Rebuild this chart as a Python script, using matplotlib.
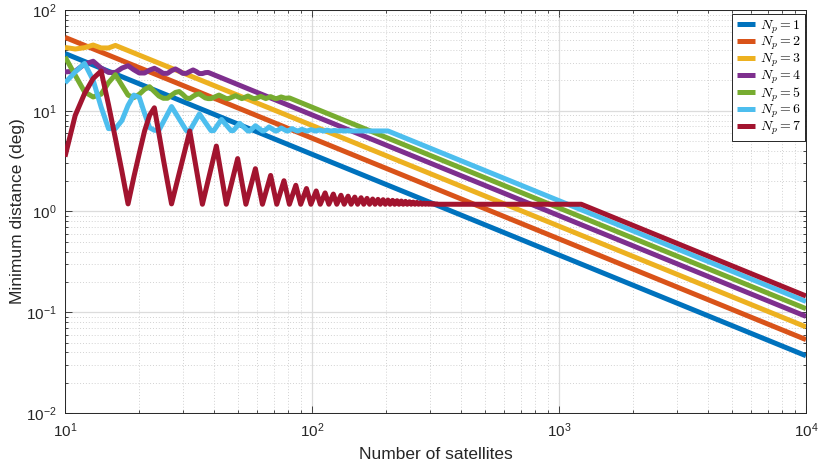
import numpy as np
import matplotlib
matplotlib.use('Agg')
import matplotlib.pyplot as plt
from matplotlib.ticker import LogLocator, NullFormatter

plt.rcParams['font.family'] = ['Liberation Sans', 'DejaVu Sans']
plt.rcParams['mathtext.fontset'] = 'custom'
plt.rcParams['mathtext.rm'] = 'Liberation Sans'
plt.rcParams['mathtext.it'] = 'Liberation Sans:italic'
plt.rcParams['mathtext.bf'] = 'Liberation Sans:bold'

# ---------------- data ----------------
np1_n = [10, 100, 1000, 10000]
np1_v = [37.0, 3.70, 0.370, 0.0370]

np2_n = [10, 100, 1000, 10000]
np2_v = [53.5, 5.35, 0.535, 0.0535]

np3_n = [10, 11, 12, 13, 14, 15, 16, 100, 1000, 10000]
np3_v = [42.5, 41.0, 42.3, 44.9, 42.0, 42.0, 44.5, 7.15, 0.715, 0.0715]

np4_n = [10, 11, 12, 13, 14, 15, 16, 17, 18, 19, 20, 21, 22, 23, 24, 25, 26,
         27, 28, 29, 30, 31, 32, 33, 34, 35, 36, 37, 38, 100, 1000, 10000]
np4_v = [24.3, 24.7, 29.0, 31.0, 26.5, 24.0, 24.0, 26.5, 28.0, 25.5, 23.7,
         23.7, 25.3, 26.4, 25.0, 23.5, 23.5, 25.0, 26.0, 24.8, 23.5, 23.5,
         24.5, 25.4, 24.5, 23.4, 23.4, 23.9, 24.0, 9.1, 0.91, 0.091]

np5_n = [10, 11, 12, 13, 14, 15, 16, 17, 18, 19, 20, 21, 22, 23, 24, 25, 26,
         27, 28, 29, 30, 31, 32, 33, 34, 35, 36, 37, 38, 39, 42, 45, 46, 49,
         52, 55, 58, 59, 62, 65, 68, 71, 72, 75, 78, 81, 100, 1000, 10000]
np5_v = [34.3, 22.5, 15.4, 13.7, 14.6, 19.0, 22.8, 17.9, 14.3, 13.5, 14.6,
         16.3, 17.3, 15.5, 14.0, 13.3, 13.3, 14.3, 15.2, 15.5, 14.5, 13.4,
         13.2, 13.9, 14.5, 14.7, 14.0, 13.4, 13.2, 13.2, 14.3, 13.2, 13.2,
         14.1, 13.2, 14.0, 13.2, 13.2, 13.9, 13.2, 13.8, 13.2, 13.2, 13.7,
         13.3, 13.4, 10.85, 1.085, 0.1085]

np6_n = [10, 11, 12, 13, 14, 15, 16, 17, 18, 19, 20, 21, 22, 23, 24, 27,
         31, 32, 35, 39, 40, 43, 47, 48, 51, 55, 56, 59, 63, 64, 67, 71, 72,
         75, 79, 80, 83, 87, 88, 91, 95, 96, 99, 103, 104, 107, 111, 112,
         115, 119, 120, 123, 127, 128, 131, 135, 136, 139, 143, 203, 1000,
         10000]
np6_v = [18.9, 24.3, 29.5, 20.1, 10.9, 6.65, 6.65, 8.0, 11.3, 14.3, 13.5,
         9.4, 6.8, 6.4, 6.4, 11.0, 6.35, 6.35, 9.3, 6.35, 6.35, 8.2, 6.35,
         6.35, 7.5, 6.3, 6.3, 7.1, 6.3, 6.3, 6.9, 6.3, 6.3, 6.75, 6.3, 6.3,
         6.65, 6.3, 6.3, 6.55, 6.3, 6.3, 6.5, 6.3, 6.3, 6.45, 6.3, 6.3, 6.42,
         6.3, 6.3, 6.38, 6.3, 6.3, 6.36, 6.3, 6.3, 6.34, 6.3, 6.3, 1.28,
         0.128]

np7_n_start = [10, 11, 12, 13, 14, 15, 16, 17, 18, 19, 20, 21, 22, 23, 24,
               25, 26, 27]
np7_v_start = [3.5, 9.0, 14.8, 20.9, 24.8, 11.5, 5.3, 2.5, 1.19, 2.2, 3.8,
               6.3, 9.0, 10.7, 5.95, 3.33, 1.96, 1.19]
np7_peak_n = [32, 41, 50, 59, 68, 77, 86, 95, 104, 113, 122, 131, 140, 149,
              158, 167, 176, 185, 194, 203, 212, 221, 230, 239, 248, 257,
              266, 275, 284, 293, 302, 311, 320]
np7_peak_v = [6.3, 4.46, 3.35, 2.66, 2.28, 2.02, 1.82, 1.69, 1.60, 1.53,
              1.49, 1.45, 1.42, 1.39, 1.37, 1.35, 1.33, 1.32, 1.31, 1.30,
              1.29, 1.28, 1.27, 1.26, 1.25, 1.24, 1.23, 1.22, 1.21, 1.205,
              1.20, 1.195, 1.19]
np7_trough_n = [36, 45, 54, 63, 72, 81, 90, 99, 108, 117, 126, 135, 144,
                153, 162, 171, 180, 189, 198, 207, 216, 225, 234, 243, 252,
                261, 270, 279, 288, 297, 306, 315, 324]
np7_trough_v = [1.18] * len(np7_trough_n)
np7_n_end = [330, 1230, 10000]
np7_v_end = [1.18, 1.18, 0.145]

labels = [r'$N_p = 1$', r'$N_p = 2$', r'$N_p = 3$', r'$N_p = 4$',
          r'$N_p = 5$', r'$N_p = 6$', r'$N_p = 7$']
colors = ['#0072BD', '#D95319', '#EDB120', '#7E2F8E', '#77AC30', '#4DBEEE',
          '#A2142F']

# assemble Np=7 series
mid = sorted(zip(np7_peak_n + np7_trough_n, np7_peak_v + np7_trough_v))
np7_n = np7_n_start + [m[0] for m in mid] + np7_n_end
np7_v = np7_v_start + [m[1] for m in mid] + np7_v_end

series = [(np1_n, np1_v), (np2_n, np2_v), (np3_n, np3_v), (np4_n, np4_v),
          (np5_n, np5_v), (np6_n, np6_v), (np7_n, np7_v)]

# ---------------- figure ----------------
W, H = 818, 469
fig = plt.figure(figsize=(W / 100, H / 100), dpi=100)
ax = fig.add_axes([65 / W, 1 - 413 / H, (806 - 65) / W, (413 - 10) / H])

for (n, v), c, lab in zip(series, colors, labels):
    ax.plot(n, v, color=c, lw=3.6, label=lab, solid_joinstyle='round',
            solid_capstyle='butt', zorder=3)

ax.set_xscale('log')
ax.set_yscale('log')
ax.set_xlim(10, 1e4)
ax.set_ylim(1e-2, 1e2)

ax.xaxis.set_major_locator(LogLocator(base=10, numticks=10))
ax.yaxis.set_major_locator(LogLocator(base=10, numticks=10))
ax.xaxis.set_minor_locator(LogLocator(base=10, subs=np.arange(2, 10), numticks=50))
ax.yaxis.set_minor_locator(LogLocator(base=10, subs=np.arange(2, 10), numticks=50))
ax.xaxis.set_minor_formatter(NullFormatter())
ax.yaxis.set_minor_formatter(NullFormatter())

ax.grid(True, which='major', color='#dcdcdc', lw=0.9, ls='-', zorder=0)
ax.grid(True, which='minor', color='#d2d2d2', lw=0.7, ls=(0, (1, 2)), zorder=0)
ax.set_axisbelow(True)

dark = '#262626'
for s in ax.spines.values():
    s.set_color(dark)
    s.set_linewidth(0.7)
ax.tick_params(which='both', direction='in', top=True, right=True,
               color=dark, labelcolor=dark, width=0.6)
ax.tick_params(which='major', length=5, labelsize=11, pad=6)
ax.tick_params(which='minor', length=2.5)

ax.set_xlabel('Number of satellites', fontsize=12.5, color=dark, labelpad=5)
ax.set_ylabel('Minimum distance (deg)', fontsize=12.5, color=dark, labelpad=1)

leg = ax.legend(loc='upper right', bbox_to_anchor=(805 / W, 1 - 14 / H),
                bbox_transform=fig.transFigure, borderaxespad=0,
                fontsize=10, handlelength=1.35, handletextpad=0.3,
                labelspacing=-0.04, borderpad=0.3, fancybox=False,
                framealpha=1, edgecolor=dark)
leg.get_frame().set_linewidth(0.7)
for t in leg.get_texts():
    t.set_math_fontfamily('cm')
for l in leg.get_lines():
    l.set_linewidth(3.6)

fig.savefig('out.png', dpi=100)
